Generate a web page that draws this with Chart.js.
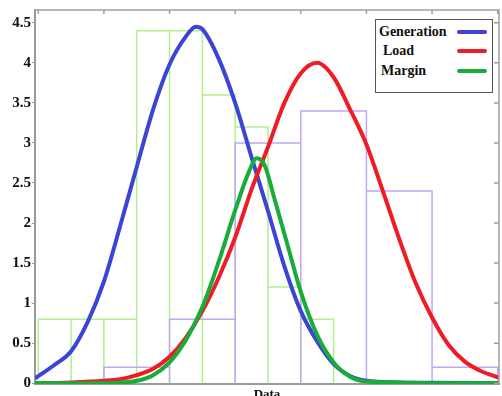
<!DOCTYPE html>
<html>
<head>
<meta charset="utf-8">
<script src="https://cdn.jsdelivr.net/npm/chart.js@4.4.0/dist/chart.umd.min.js"></script>
<style>
  body { margin: 0; background: #fff; }
  #wrap { position: relative; width: 502px; height: 396px; }
  #legend { position: absolute; left: 375px; top: 19px; width: 116px; height: 72px;
            border: 1.5px solid #555; background: #fff;
            font: bold 14px "Liberation Serif", serif; color: #111; }
  .row { position: absolute; left: 0; right: 0; height: 16px; line-height: 16px; }
  .row span { position: absolute; }
  .row i { position: absolute; left: 81px; width: 30px; height: 4px; border-radius: 2px; top: 6px; }
</style>
</head>
<body>
<div id="wrap">
  <canvas id="myChart"></canvas>
  <div id="legend">
    <div class="row" style="top:4px"><span style="left:3px">Generation</span><i style="background:#3b44d4"></i></div>
    <div class="row" style="top:23px"><span style="left:7px">Load</span><i style="background:#ee1c24"></i></div>
    <div class="row" style="top:43px"><span style="left:5px">Margin</span><i style="background:#18ac3a"></i></div>
  </div>
</div>
<script>
// histogram bins (bin edges + heights)
const greenEdges = [0, 0.5, 1, 1.5, 2, 2.5, 3, 3.5, 4, 4.5];
const greenHeights = [0.8, 0.8, 0.8, 4.4, 4.4, 3.6, 3.2, 1.2, 0.8];
const purpleEdges = [1, 2, 3, 4, 5, 6, 7];
const purpleHeights = [0.2, 0.8, 3.0, 3.4, 2.4, 0.2];

// fitted curves
const genX = [-0.05, 0.25, 0.5, 0.75, 1, 1.25, 1.5, 1.75, 2, 2.25, 2.4, 2.5, 2.75, 3, 3.25, 3.5, 3.75, 4, 4.25, 4.5, 4.75, 5, 5.5, 6, 7.02];
const genY = [0.06, 0.23, 0.4, 0.76, 1.27, 1.97, 2.7, 3.42, 3.98, 4.33, 4.45, 4.42, 4.05, 3.5, 2.82, 2.15, 1.46, 0.9, 0.52, 0.24, 0.09, 0.03, 0.01, 0.005, 0];
const loadX = [-0.05, 0.5, 1, 1.25, 1.5, 1.75, 2, 2.25, 2.5, 2.75, 3, 3.25, 3.5, 3.75, 4, 4.25, 4.5, 4.75, 5, 5.25, 5.5, 5.75, 6, 6.25, 6.5, 6.75, 7.02];
const loadY = [0, 0.01, 0.03, 0.05, 0.1, 0.18, 0.33, 0.57, 0.9, 1.32, 1.82, 2.42, 2.95, 3.5, 3.87, 4.0, 3.82, 3.42, 2.98, 2.4, 1.8, 1.25, 0.82, 0.48, 0.27, 0.15, 0.07];
const marginX = [-0.05, 1, 1.5, 1.75, 2, 2.25, 2.5, 2.75, 3, 3.2, 3.33, 3.45, 3.6, 3.8, 4, 4.25, 4.5, 4.75, 5, 5.5, 6, 7.02];
const marginY = [0, 0, 0.03, 0.1, 0.26, 0.54, 0.95, 1.52, 2.16, 2.62, 2.81, 2.72, 2.3, 1.72, 1.14, 0.6, 0.26, 0.08, 0.02, 0.01, 0, 0];

const topTicks = [0, 1, 2, 3, 4, 5, 6, 7];

const pts = (xs, ys) => xs.map((v, i) => ({x: v, y: ys[i]}));

// outline of histogram bars, down to zero at every edge
function outline(edges, h) {
  const out = [{x: edges[0], y: 0}];
  for (let i = 0; i < h.length; i++) {
    out.push({x: edges[i], y: h[i]});
    out.push({x: edges[i + 1], y: h[i]});
    out.push({x: edges[i + 1], y: 0});
  }
  return out;
}

const framePlugin = {
  id: 'frame',
  afterDatasetsDraw(chart) {
    const {ctx, chartArea: a, scales: {x, y}} = chart;
    ctx.save();
    ctx.strokeStyle = '#a0a0a0';
    ctx.lineWidth = 1.5;
    ctx.beginPath();
    ctx.moveTo(a.left, a.top); ctx.lineTo(a.right, a.top); ctx.lineTo(a.right, a.bottom);
    topTicks.forEach(v => {
      const px = x.getPixelForValue(v);
      ctx.moveTo(px, a.top); ctx.lineTo(px, a.top + 4);
    });
    y.ticks.forEach(t => {
      const py = y.getPixelForValue(t.value);
      ctx.moveTo(a.right, py); ctx.lineTo(a.right - 5, py);
    });
    ctx.stroke();
    ctx.restore();
  }
};

const serif = 'Liberation Serif';

new Chart(document.getElementById('myChart'), {
  type: 'line',
  data: {
    datasets: [
      { label: 'Margin', data: pts(marginX, marginY), borderColor: '#18ac3a', borderWidth: 4, order: 0 },
      { label: 'Load', data: pts(loadX, loadY), borderColor: '#ee1c24', borderWidth: 4, order: 1 },
      { label: 'Generation', data: pts(genX, genY), borderColor: '#3b44d4', borderWidth: 4, order: 2 },
      { label: 'hist2', data: outline(purpleEdges, purpleHeights), borderColor: '#c4a6f6', borderWidth: 1.5, tension: 0, cubicInterpolationMode: 'default', order: 3 },
      { label: 'hist1', data: outline(greenEdges, greenHeights), borderColor: '#b2ef8e', borderWidth: 1.5, tension: 0, cubicInterpolationMode: 'default', order: 4 }
    ]
  },
  options: {
    responsive: true,
    maintainAspectRatio: false,
    animation: false,
    layout: { padding: { top: 10, right: 3, left: 0, bottom: 0 } },
    elements: {
      point: { radius: 0 },
      line: { cubicInterpolationMode: 'monotone', fill: false }
    },
    plugins: { legend: { display: false }, tooltip: { enabled: false } },
    scales: {
      x: {
        type: 'linear',
        min: -0.05,
        max: 7.02,
        grid: { display: false },
        border: { color: '#999', width: 2 },
        ticks: { display: false },
        title: {
          display: true, text: 'Data', color: '#111',
          font: { family: serif, weight: 'bold', size: 13 },
          padding: { top: 0, bottom: -6 }
        },
        afterFit: s => { s.height = 12; }
      },
      y: {
        min: -0.01,
        max: 4.66,
        grid: { drawOnChartArea: false, drawTicks: true, tickLength: 3, color: '#999' },
        border: { color: '#999', width: 2 },
        ticks: {
          stepSize: 0.5,
          includeBounds: false,
          padding: 1,
          color: '#111',
          font: { family: serif, weight: 'bold', size: 15 },
          callback: v => String(+v.toFixed(2))
        },
        afterFit: s => { s.width = 35; }
      }
    }
  },
  plugins: [framePlugin]
});
</script>
</body>
</html>
